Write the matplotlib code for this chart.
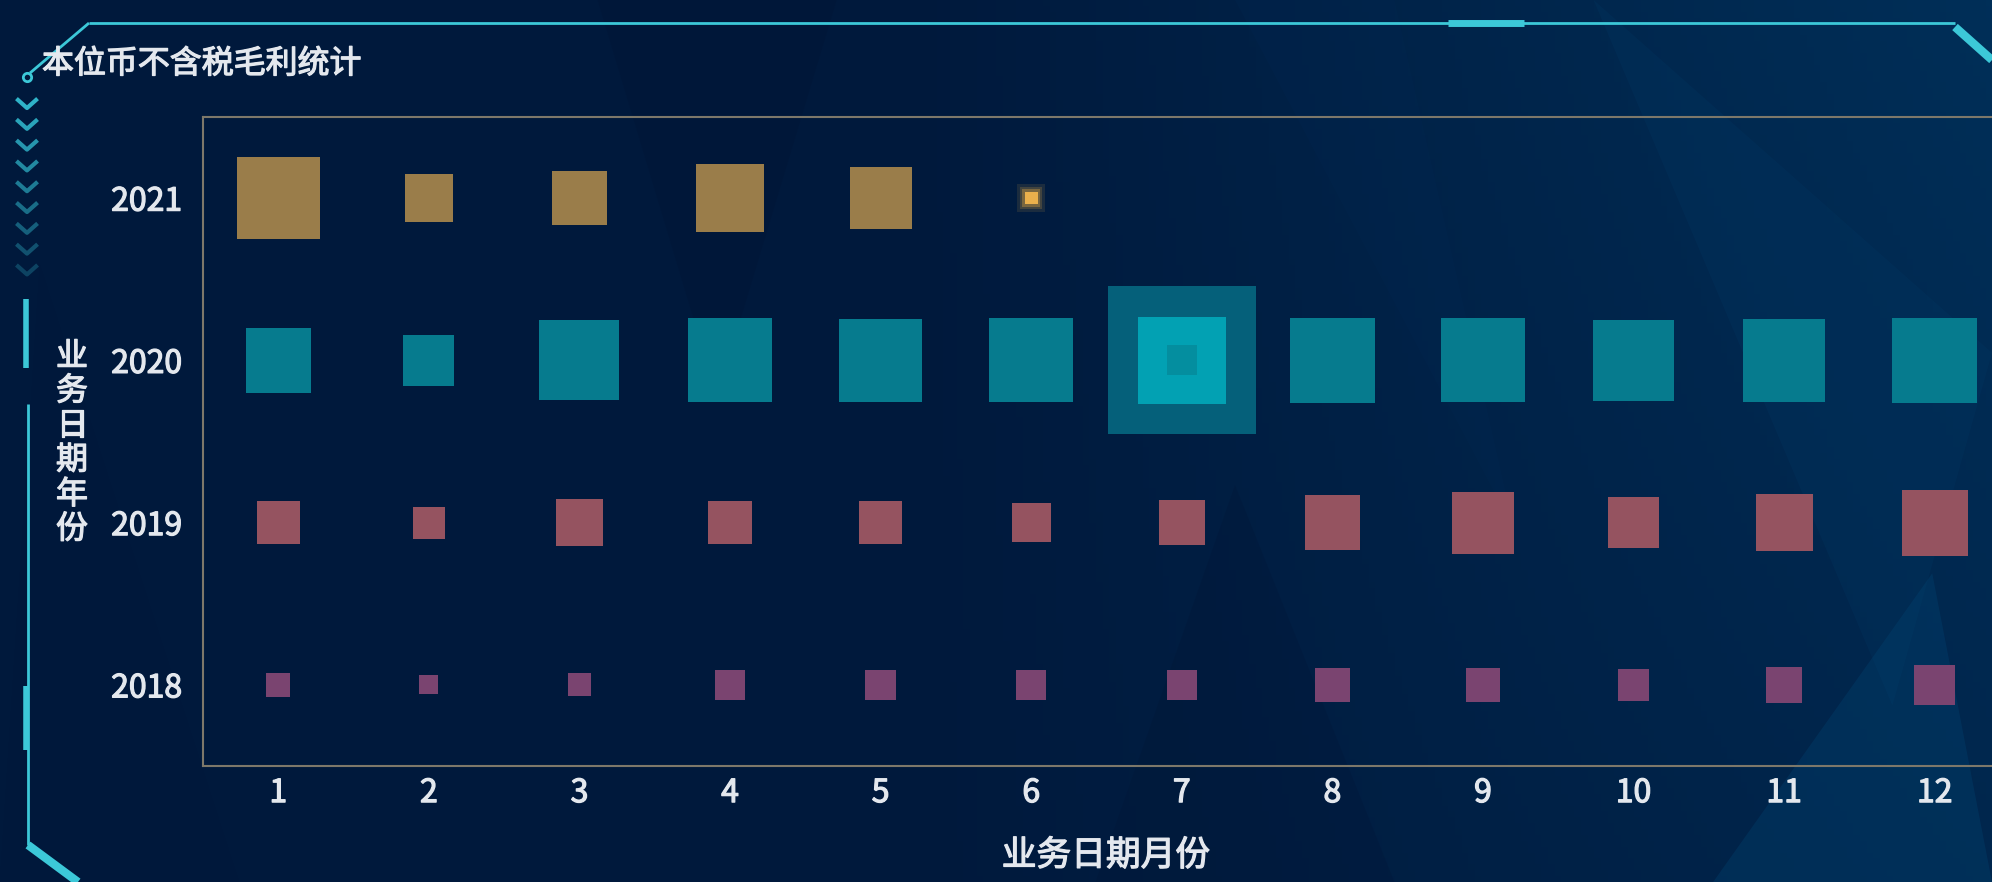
import numpy as np
import matplotlib
matplotlib.use("Agg")
import matplotlib.pyplot as plt
import matplotlib.patheffects as pe
from matplotlib.lines import Line2D
from matplotlib.patches import Polygon

plt.rcParams['font.family'] = ['Noto Sans CJK SC', 'DejaVu Sans']

# data: symbol size per month for each year (2021 only up to June)
months = [1, 2, 3, 4, 5, 6, 7, 8, 9, 10, 11, 12]
years = ['2018', '2019', '2020', '2021']
size_2021 = [65, 38, 43, 54, 49, 10]
size_2020 = [51, 40, 63, 66, 65, 66, 69, 67, 66, 64, 65, 67]
size_2019 = [34, 25, 37, 34, 34, 31, 36, 43, 49, 40, 45, 52]
size_2018 = [19, 15, 18, 24, 24, 24, 24, 27, 27, 25, 28, 32]
colors = {'2021': '#9a7d4a', '2020': '#067b8e', '2019': '#955360', '2018': '#7a4470'}

W, H = 1992, 882
SCALE = 1.27  # symbol px -> output px
txt_col = '#e4e8ee'
# a thin stroke in the text colour makes the labels a bit heavier
thick = [pe.withStroke(linewidth=0.9, foreground=txt_col)]


def fx(x):
    return x / W


def fy(y):
    return 1 - y / H


def area(side):
    # scatter marker area in pt^2 for a square of `side` output pixels
    return (side * SCALE * 72 / 100) ** 2


fig = plt.figure(figsize=(W / 100, H / 100), dpi=100)

# background gradient + a few faint facets
bg = fig.add_axes([0, 0, 1, 1])
bg.set_axis_off()
gx = np.linspace(0, 1, 300)
gy = np.linspace(0, 1, 150)
X, Y = np.meshgrid(gx, gy)
c0 = np.array([0x00, 0x19, 0x3c]) / 255
c1 = np.array([0x00, 0x32, 0x5c]) / 255
t = np.clip((X - 0.45) * 1.6, 0, 1) * (0.6 + 0.4 * Y)
img = c0[None, None, :] * (1 - t[..., None]) + c1[None, None, :] * t[..., None]
bg.imshow(img, extent=[0, 1, 0, 1], aspect='auto', origin='lower')
bg.set_xlim(0, 1)
bg.set_ylim(0, 1)
facets = [
    ([(0.30, 1.0), (0.42, 1.0), (0.36, 0.55)], '#00122e', 0.2),
    ([(0.55, 0.0), (0.70, 0.0), (0.62, 0.45)], '#001230', 0.2),
    ([(0.80, 1.0), (0.95, 0.2), (1.0, 0.6)], '#003d6a', 0.2),
    ([(0.86, 0.0), (0.97, 0.35), (1.0, 0.0)], '#004877', 0.3),
    ([(0.02, 0.7), (0.12, 0.0), (0.0, 0.0)], '#00173a', 0.3),
    ([(0.62, 1.0), (0.76, 0.4), (0.70, 1.0)], '#002a55', 0.2),
]
for pts, col, a in facets:
    bg.add_patch(Polygon(pts, closed=True, facecolor=col, edgecolor='none', alpha=a))

# decorative frame
cyan = '#3cc8d8'


def seg(x0, y0, x1, y1, lw=1.5, alpha=1.0, color=cyan):
    fig.add_artist(Line2D([fx(x0), fx(x1)], [fy(y0), fy(y1)], color=color, lw=lw,
                          alpha=alpha, transform=fig.transFigure, solid_capstyle='butt'))


seg(89, 23, 1955, 23, lw=2)
seg(1448, 23, 1524, 23, lw=5)
seg(1955, 27, 1992, 60, lw=6)
seg(30, 73, 89, 23, lw=2)
fig.add_artist(Line2D([fx(27)], [fy(77)], marker='o', markersize=6, markerfacecolor='none',
                      markeredgecolor=cyan, markeredgewidth=2, transform=fig.transFigure))
for i in range(9):
    yc = 104 + i * 20.8
    a = 1.0 - i * 0.09
    fig.add_artist(Line2D([fx(18), fx(27), fx(36)], [fy(yc - 4), fy(yc + 4), fy(yc - 4)],
                          color='#2fb3c8', lw=3, alpha=a, transform=fig.transFigure))
seg(26, 299, 26, 368, lw=4)
seg(28, 404, 28, 845, lw=2)
seg(26, 686, 26, 750, lw=4)
seg(28, 845, 78, 882, lw=6)

# main chart
ax = fig.add_axes([fx(203), fy(766), (2010 - 203) / W, (766 - 117) / H])
ax.set_facecolor('none')
ax.set_xlim(0.5, 12.5)
ax.set_ylim(-0.5, 3.5)
for sp in ax.spines.values():
    sp.set_color('#7d786a')
    sp.set_linewidth(1.5)

series = {'2018': size_2018, '2019': size_2019, '2020': size_2020, '2021': size_2021}
for yi, yr in enumerate(years):
    vals = series[yr]
    xs = months[:len(vals)]
    ys = [yi] * len(vals)
    sizes = [area(v) for v in vals]
    cols = [colors[yr]] * len(vals)
    if yr == '2020':
        # highlighted July point: halo ring + brighter fill
        ax.scatter([7], [yi], s=area(116), marker='s', color='#05607a', linewidths=0, zorder=2)
        cols[6] = '#02a1b3'
    if yr == '2021':
        for k, a in [(2.2, 0.12), (1.7, 0.2), (1.35, 0.35)]:
            ax.scatter([6], [yi], s=area(vals[5] * k), marker='s', color='#e0a840',
                       alpha=a, linewidths=0, zorder=3)
        cols[5] = '#eab04c'
    ax.scatter(xs, ys, s=sizes, marker='s', c=cols, linewidths=0, zorder=3)
    if yr == '2020':
        ax.scatter([7], [yi], s=area(24), marker='s', color='#048e9f', linewidths=0, zorder=4)

ax.set_xticks(months)
ax.set_xticklabels([str(m) for m in months])
ax.set_yticks(range(len(years)))
ax.set_yticklabels(years)
ax.tick_params(axis='both', length=0, colors=txt_col, labelsize=23)
ax.tick_params(axis='x', pad=8)
ax.tick_params(axis='y', pad=15)
for lab in ax.get_xticklabels() + ax.get_yticklabels():
    lab.set_path_effects(thick)

fig.text(fx(42), fy(64), '本位币不含税毛利统计', fontsize=23, color=txt_col,
         va='center', ha='left', path_effects=thick)
fig.text(fx(1106), fy(856), '业务日期月份', fontsize=25, color=txt_col,
         va='center', ha='center', path_effects=thick)
fig.text(fx(72), fy(443), '\n'.join('业务日期年份'), fontsize=23, color=txt_col,
         va='center', ha='center', linespacing=1.1, path_effects=thick)

fig.savefig('out.png', dpi=100)
